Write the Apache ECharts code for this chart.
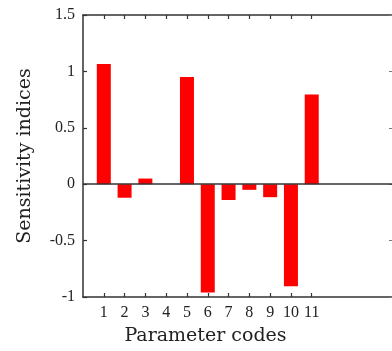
<!DOCTYPE html>
<html><head><meta charset="utf-8">
<script src="https://cdn.jsdelivr.net/npm/echarts@6/dist/echarts.min.js"></script>
<style>html,body{margin:0;padding:0;background:#fff}#c{width:392px;height:351px}</style>
</head><body><div id="c"></div>
<script>
const codes = [1,2,3,4,5,6,7,8,9,10,11];
const indices = [1.065,-0.12,0.05,0,0.95,-0.96,-0.14,-0.05,-0.115,-0.905,0.795];
const yTicks = [-1,-0.5,0,0.5,1,1.5];
const xName = 'Parameter codes';
const yName = 'Sensitivity indices';

const font = 'Liberation Serif';
const nameFont = 'DejaVu Serif';
const axisCol = '#333';
const chart = echarts.init(document.getElementById('c'));
const tickStyle = {show:true, inside:true, length:4, lineStyle:{color:axisCol,width:1.2}};
const lineStyle = {show:true, onZero:false, lineStyle:{color:axisCol,width:1.5}};
chart.setOption({
  animation:false,
  grid:{left:83, right:0, top:15, bottom:53, containLabel:false},
  xAxis:[{
    type:'value', min:0, max:14.86, interval:1, position:'bottom',
    name:xName, nameLocation:'middle', nameGap:30,
    nameTextStyle:{fontFamily:nameFont, fontSize:19, color:'#222', padding:[0,64,0,0]},
    axisLine:lineStyle,
    axisTick:Object.assign({customValues:codes}, tickStyle),
    axisLabel:{customValues:codes, fontFamily:font, fontSize:16, color:'#222', margin:8},
    splitLine:{show:false}
  },{
    type:'value', min:0, max:14.86, interval:1, position:'top',
    axisLine:lineStyle,
    axisTick:Object.assign({customValues:codes}, tickStyle),
    axisLabel:{show:false}, splitLine:{show:false}
  }],
  yAxis:[{
    type:'value', min:-1, max:1.5, interval:0.5, position:'left',
    name:yName, nameLocation:'middle', nameGap:48, nameRotate:90,
    nameTextStyle:{fontFamily:nameFont, fontSize:19, color:'#222'},
    axisLine:lineStyle,
    axisTick:tickStyle,
    axisLabel:{fontFamily:font, fontSize:16, color:'#222', margin:8},
    splitLine:{show:false}
  },{
    type:'value', min:-1, max:1.5, interval:0.5, position:'right',
    axisLine:{show:false, onZero:false},
    axisTick:{show:true, inside:true, length:3, lineStyle:{color:'#777',width:1}},
    axisLabel:{show:false}, splitLine:{show:false}
  }],
  series:[{
    type:'bar', xAxisIndex:0, yAxisIndex:0, barWidth:14,
    itemStyle:{color:'#ff0000'},
    data: codes.map((c,i)=>[c, indices[i]]),
    markLine:{silent:true, symbol:'none', label:{show:false},
      lineStyle:{color:axisCol, width:1.5, type:'solid'},
      data:[{yAxis:0}]}
  }]
});
</script></body></html>
